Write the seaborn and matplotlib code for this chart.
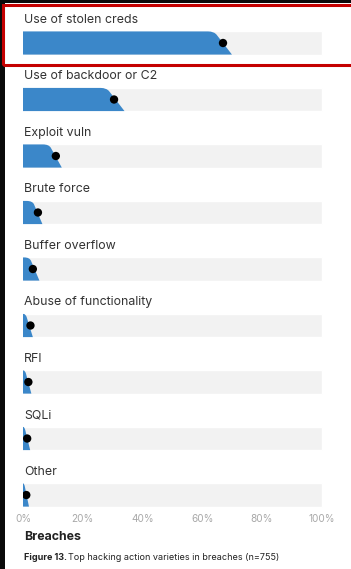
import matplotlib.pyplot as plt
import seaborn as sns
import numpy as np
from matplotlib.patches import Rectangle, PathPatch
from matplotlib.path import Path

# values (percent of breaches)
categories = ["Use of stolen creds", "Use of backdoor or C2", "Exploit vuln",
              "Brute force", "Buffer overflow", "Abuse of functionality",
              "RFI", "SQLi", "Other"]
values = [67, 30.5, 11, 5, 3.3, 2.5, 1.8, 1.4, 1.1]
ci_low = [64, 28, 8.7, 3.2, 2.2, 0.9, 0.7, 0.5, 0.4]
ci_high = [70, 34, 13, 6.5, 5.5, 3.3, 2.8, 2.4, 2.0]
track = [100] * len(categories)
xticks = [0, 20, 40, 60, 80, 100]
xticklabels = ["0%", "20%", "40%", "60%", "80%", "100%"]

BLUE = "#3b87c9"
TRACK = "#f2f2f2"
W, H = 351, 569


def slant_bar(ax, y, lo, hi, half):
    # bar whose right end slopes from the low to the high estimate
    top, bot = y - half, y + half
    r = min(2.0, lo * 0.8)
    verts = [(0, bot), (0, top), (lo - r, top), (lo, top),
             (lo + (hi - lo) * 0.15, top + 2 * half * 0.15), (hi, bot), (0, bot)]
    codes = [Path.MOVETO, Path.LINETO, Path.LINETO, Path.CURVE3, Path.CURVE3,
             Path.LINETO, Path.CLOSEPOLY]
    ax.add_patch(PathPatch(Path(verts, codes), fc=BLUE, ec="none", zorder=2))


def main():
    sns.set_style("white")
    plt.rcParams["font.family"] = ["Inter", "DejaVu Sans"]

    fig = plt.figure(figsize=(W / 100, H / 100), dpi=100)
    fig.patch.set_facecolor("white")

    ax = fig.add_axes([23 / W, 1 - 510 / H, 300 / W, 510 / H])
    pos = np.arange(len(categories))
    half = 0.205

    sns.barplot(x=track, y=pos, orient="h", color=TRACK, width=2 * half,
                saturation=1, ax=ax, zorder=1)
    for i in pos:
        slant_bar(ax, i, ci_low[i], ci_high[i], half)
    sns.scatterplot(x=values, y=pos, color="black", s=36, edgecolor="none",
                    ax=ax, zorder=3)

    for i, lab in enumerate(categories):
        ax.text(0.3, i - 0.415, lab, fontsize=8.9, color="#333333",
                va="center", ha="left")

    ax.set_xlim(0, 100.5)
    ax.set_ylim(8.265, -0.761)
    ax.set_yticks([])
    ax.set_xticks(xticks)
    ax.set_xticklabels(xticklabels, fontsize=7.2, color="#a8a8a8")
    ax.tick_params(axis="x", length=0, pad=3)
    ax.set_xlabel("")
    ax.set_ylabel("")
    sns.despine(ax=ax, left=True, bottom=True)

    fig.text(24 / W, 1 - 537 / H, "Breaches", fontsize=8.9, fontweight="bold",
             color="#222222", va="center")
    t1 = fig.text(24 / W, 1 - 558 / H, "Figure 13.", fontsize=6.5,
                  fontweight="bold", color="#222222", va="center")
    renderer = fig.canvas.get_renderer()
    bb = t1.get_window_extent(renderer)
    fig.text((bb.x1 + 1.5) / W, 1 - 558 / H,
             "Top hacking action varieties in breaches (n=755)", fontsize=6.5,
             color="#222222", va="center")

    # screenshot frame: dark edges and the red highlight box
    fig.add_artist(Rectangle((0, 0), 4.5 / W, 1, transform=fig.transFigure,
                             fc="#0a0a0a", ec="none", zorder=10))
    fig.add_artist(Rectangle((0, 1 - 3 / H), 1, 3 / H, transform=fig.transFigure,
                             fc="#0a0a0a", ec="none", zorder=10))
    fig.add_artist(Rectangle((2.5 / W, 1 - 65 / H), 1, 60.5 / H,
                             transform=fig.transFigure, fill=False,
                             ec="#c40000", lw=2.2, zorder=11))

    fig.savefig("out.png", dpi=100)


if __name__ == "__main__":
    main()
